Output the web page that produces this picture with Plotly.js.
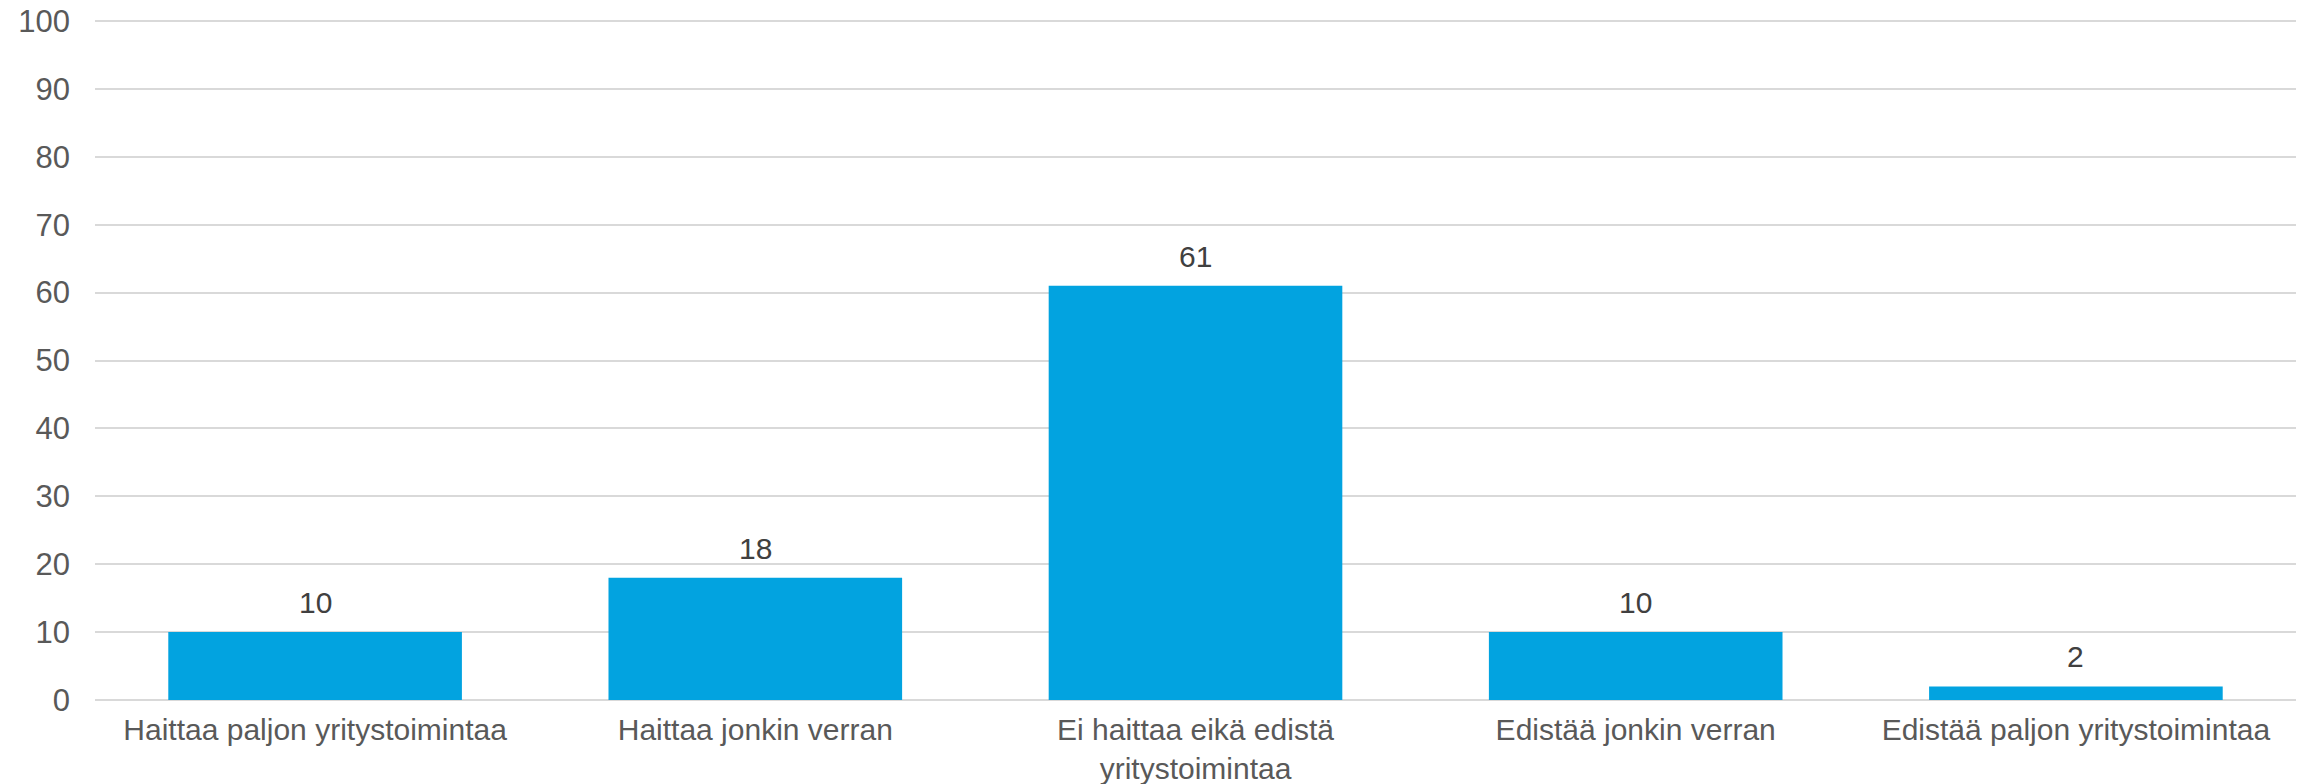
<!DOCTYPE html>
<html>
<head>
<meta charset="utf-8">
<script src="https://cdn.plot.ly/plotly-3.0.1.min.js"></script>
<style>html,body{margin:0;padding:0;background:#fff;}#chart{width:2303px;height:784px;}</style>
</head>
<body>
<div id="chart"></div>
<script>
var categories = [
  "Haittaa paljon yritystoimintaa",
  "Haittaa jonkin verran",
  "Ei haittaa eikä edistä<br>yritystoimintaa",
  "Edistää jonkin verran",
  "Edistää paljon yritystoimintaa"
];
var values = [10, 18, 61, 10, 2];
var yTicks = [0, 10, 20, 30, 40, 50, 60, 70, 80, 90, 100];

var trace = {
  type: 'bar',
  x: categories,
  y: values,
  marker: {color: '#02A3E0', line: {width: 0}},
  hoverinfo: 'none'
};

var annotations = categories.map(function (c, i) {
  return {
    x: c, y: values[i], xref: 'x', yref: 'y',
    text: String(values[i]), showarrow: false,
    yanchor: 'bottom', yshift: 11,
    font: {family: 'Liberation Sans, Arial, sans-serif', size: 30, color: '#404040'}
  };
});

var layout = {
  width: 2303, height: 784,
  margin: {l: 95, r: 7, t: 20, b: 83},
  paper_bgcolor: '#ffffff', plot_bgcolor: '#ffffff',
  font: {family: 'Liberation Sans, Arial, sans-serif', size: 30, color: '#595959'},
  showlegend: false,
  bargap: 0.333,
  annotations: annotations,
  xaxis: {
    type: 'category',
    showgrid: false, zeroline: false, showline: false, ticks: '',
    ticklabelstandoff: 8,
    tickfont: {size: 30, color: '#595959'}
  },
  yaxis: {
    range: [-0.15, 100.15],
    tickvals: yTicks,
    ticktext: yTicks.map(String),
    showgrid: true, gridcolor: '#D9D9D9', gridwidth: 2,
    zeroline: false, showline: false, ticks: '',
    ticklabelstandoff: 24,
    tickfont: {size: 31, color: '#595959'}
  }
};

Plotly.newPlot('chart', [trace], layout, {displayModeBar: false, staticPlot: true});
</script>
</body>
</html>
